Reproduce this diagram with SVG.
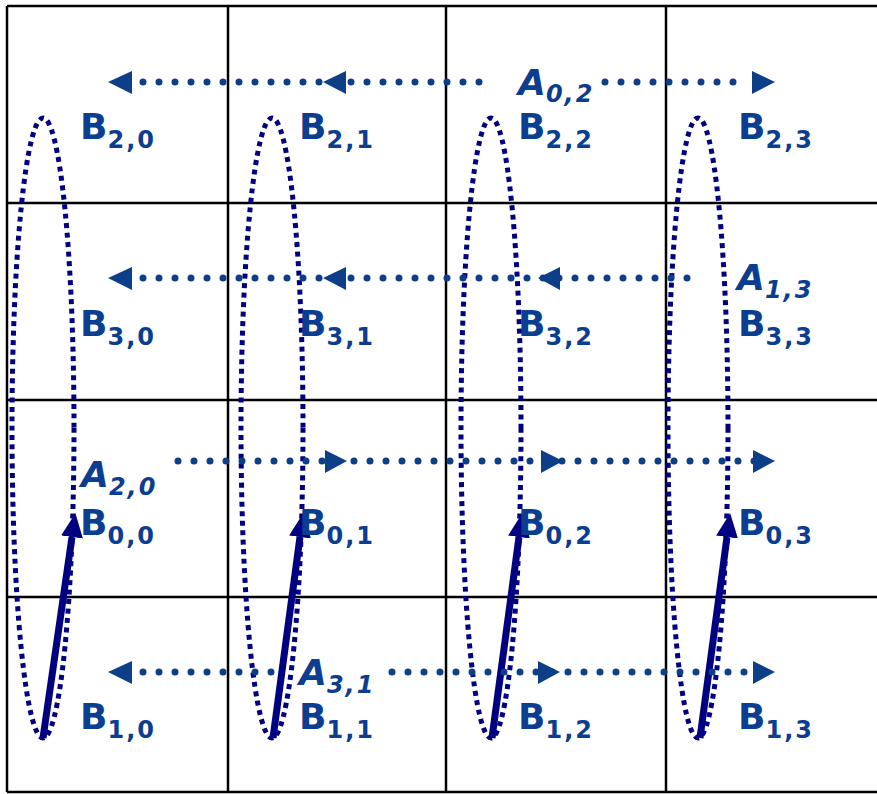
<svg xmlns="http://www.w3.org/2000/svg" width="877" height="794" viewBox="0 0 877 794">
<style>
.grid{stroke:#000;stroke-width:2.5;fill:none}
.ell{fill:none;stroke:#000080;stroke-width:5;stroke-dasharray:5 4.5}
.dot{fill:none;stroke:#0c3f88;stroke-width:7;stroke-linecap:round;stroke-dasharray:0 16}
.ah{fill:#0c3f88}
.sol{stroke:#000080;stroke-width:7;fill:none}
.lbl{font-family:"Comic Sans MS","DejaVu Sans",sans-serif;font-weight:bold;font-size:36px;fill:#0b3d91}
.sub{font-size:24px;letter-spacing:2px}
.a{font-style:italic}
</style>
<defs>
<marker id="head" markerUnits="userSpaceOnUse" markerWidth="24" markerHeight="22" refX="0" refY="11" orient="auto">
<path d="M0,0 L24,11 L0,22 z" fill="#000080"/>
</marker>
</defs>
<rect width="877" height="794" fill="#fff"/>
<g id="grid">
<line class="grid" x1="7" y1="6" x2="877" y2="6"/>
<line class="grid" x1="7" y1="203" x2="877" y2="203"/>
<line class="grid" x1="7" y1="400" x2="877" y2="400"/>
<line class="grid" x1="7" y1="597" x2="877" y2="597"/>
<line class="grid" x1="7" y1="792" x2="877" y2="792"/>
<line class="grid" x1="7" y1="6" x2="7" y2="792"/>
<line class="grid" x1="228" y1="6" x2="228" y2="792"/>
<line class="grid" x1="446" y1="6" x2="446" y2="792"/>
<line class="grid" x1="666" y1="6" x2="666" y2="792"/>
</g>
<g id="ellipses">
<ellipse class="ell" cx="43" cy="428" rx="31" ry="310"/>
<ellipse class="ell" cx="272" cy="428" rx="31" ry="310"/>
<ellipse class="ell" cx="491" cy="428" rx="30" ry="310"/>
<ellipse class="ell" cx="698" cy="428" rx="30" ry="310"/>
</g>
<g id="connectors">
<line class="sol" x1="43" y1="738" x2="72" y2="537" marker-end="url(#head)"/>
<line class="sol" x1="273" y1="738" x2="300" y2="537" marker-end="url(#head)"/>
<line class="sol" x1="492" y1="738" x2="519" y2="537" marker-end="url(#head)"/>
<line class="sol" x1="700" y1="738" x2="727" y2="537" marker-end="url(#head)"/>
<line class="dot" x1="143" y1="82" x2="490" y2="82"/>
<line class="dot" x1="605" y1="82" x2="740" y2="82"/>
<polygon class="ah" points="108,82 132,71 132,94"/>
<polygon class="ah" points="323,82 346,71 346,94"/>
<polygon class="ah" points="775,82 752,71 752,94"/>
<line class="dot" x1="143" y1="278" x2="700" y2="278"/>
<polygon class="ah" points="108,278 132,267 132,290"/>
<polygon class="ah" points="323,278 346,267 346,290"/>
<polygon class="ah" points="538,278 560,267 560,290"/>
<line class="dot" x1="178" y1="461" x2="760" y2="461"/>
<polygon class="ah" points="347,461 325,450 325,473"/>
<polygon class="ah" points="563,461 541,450 541,473"/>
<polygon class="ah" points="775,461 753,450 753,473"/>
<line class="dot" x1="143" y1="672" x2="275" y2="672"/>
<line class="dot" x1="392" y1="672" x2="760" y2="672"/>
<polygon class="ah" points="108,672 132,661 132,684"/>
<polygon class="ah" points="560,672 538,661 538,684"/>
<polygon class="ah" points="775,672 753,661 753,684"/>
</g>
<g id="row0">
<text class="lbl" x="80" y="139">B<tspan class="sub" dy="9">2,0</tspan></text>
<text class="lbl" x="299" y="139">B<tspan class="sub" dy="9">2,1</tspan></text>
<text class="lbl" x="518" y="139">B<tspan class="sub" dy="9">2,2</tspan></text>
<text class="lbl" x="738" y="139">B<tspan class="sub" dy="9">2,3</tspan></text>
<text class="lbl a" x="518" y="95">A<tspan class="sub" dy="7">0,2</tspan></text>
</g>
<g id="row1">
<text class="lbl" x="80" y="336">B<tspan class="sub" dy="9">3,0</tspan></text>
<text class="lbl" x="299" y="336">B<tspan class="sub" dy="9">3,1</tspan></text>
<text class="lbl" x="518" y="336">B<tspan class="sub" dy="9">3,2</tspan></text>
<text class="lbl" x="738" y="336">B<tspan class="sub" dy="9">3,3</tspan></text>
<text class="lbl a" x="737" y="290">A<tspan class="sub" dy="8">1,3</tspan></text>
</g>
<g id="row2">
<text class="lbl" x="80" y="535">B<tspan class="sub" dy="9">0,0</tspan></text>
<text class="lbl" x="299" y="535">B<tspan class="sub" dy="9">0,1</tspan></text>
<text class="lbl" x="518" y="535">B<tspan class="sub" dy="9">0,2</tspan></text>
<text class="lbl" x="738" y="535">B<tspan class="sub" dy="9">0,3</tspan></text>
<text class="lbl a" x="81" y="487">A<tspan class="sub" dy="8">2,0</tspan></text>
</g>
<g id="row3">
<text class="lbl" x="80" y="729">B<tspan class="sub" dy="9">1,0</tspan></text>
<text class="lbl" x="299" y="729">B<tspan class="sub" dy="9">1,1</tspan></text>
<text class="lbl" x="518" y="729">B<tspan class="sub" dy="9">1,2</tspan></text>
<text class="lbl" x="738" y="729">B<tspan class="sub" dy="9">1,3</tspan></text>
<text class="lbl a" x="299" y="685">A<tspan class="sub" dy="8">3,1</tspan></text>
</g>
</svg>
